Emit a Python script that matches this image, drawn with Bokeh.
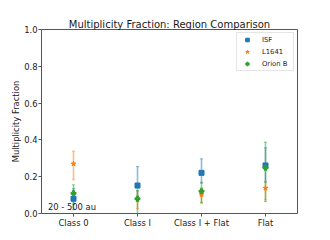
from bokeh.plotting import figure
from bokeh.models import (ColumnDataSource, Whisker, TeeHead, Legend, LegendItem,
                          Label, FixedTicker, Range1d)
from bokeh.embed import file_html
from bokeh.resources import INLINE

categories = ["Class 0", "Class I", "Class I + Flat", "Flat"]
regions = ["ISF", "L1641", "Orion B"]
colors = ["#1f77b4", "#ff7f0e", "#2ca02c"]
markers = ["square", "star", "plus"]

isf_val = [0.080, 0.152, 0.221, 0.261]
isf_lo = [0.020, 0.095, 0.165, 0.170]
isf_hi = [0.135, 0.255, 0.297, 0.357]

l1641_val = [0.270, 0.074, 0.103, 0.138]
l1641_lo = [0.183, 0.025, 0.055, 0.074]
l1641_hi = [0.339, 0.120, 0.140, 0.174]

orionb_val = [0.110, 0.080, 0.121, 0.248]
orionb_lo = [0.050, 0.000, 0.060, 0.065]
orionb_hi = [0.156, 0.125, 0.170, 0.388]

yticks = [0.0, 0.2, 0.4, 0.6, 0.8, 1.0]
annotation = "20 - 500 au"

FONT = "DejaVu Sans"
TXT = "#1a1a1a"

p = figure(width=322, height=236, output_backend="svg", toolbar_location=None,
           x_range=Range1d(-0.5, 3.5), y_range=Range1d(0.0, 1.0),
           title="Multiplicity Fraction: Region Comparison")
p.min_border_left = 41
p.min_border_right = 25
p.min_border_top = 29
p.min_border_bottom = 23
p.background_fill_color = "white"
p.border_fill_color = "white"
p.outline_line_color = "#555555"
p.outline_line_width = 1
p.xgrid.visible = False
p.ygrid.visible = False

p.title.align = "center"
p.title.text_font = FONT
p.title.text_font_size = "10px"
p.title.text_font_style = "normal"
p.title.text_color = TXT
p.title.standoff = 0

xs = list(range(len(categories)))
p.xaxis.ticker = FixedTicker(ticks=xs)
p.xaxis.major_label_overrides = {i: c for i, c in enumerate(categories)}
p.yaxis.ticker = FixedTicker(ticks=yticks)
p.yaxis.major_label_overrides = {t: f"{t:.1f}" for t in yticks}
p.yaxis.axis_label = "Multiplicity Fraction"

for ax in (p.xaxis[0], p.yaxis[0]):
    ax.axis_line_color = None
    ax.major_tick_line_color = "#555555"
    ax.major_tick_out = 3
    ax.major_tick_in = 0
    ax.minor_tick_line_color = None
    ax.major_label_text_font = FONT
    ax.major_label_text_font_size = "8.4px"
    ax.major_label_text_color = TXT
    ax.major_label_standoff = 1
    ax.axis_label_text_font = FONT
    ax.axis_label_text_font_size = "8.4px"
    ax.axis_label_text_font_style = "normal"
    ax.axis_label_text_color = TXT
    ax.axis_label_standoff = 0

series = [(isf_val, isf_lo, isf_hi), (l1641_val, l1641_lo, l1641_hi),
          (orionb_val, orionb_lo, orionb_hi)]

items = []
for name, color, marker, (val, lo, hi) in zip(regions, colors, markers, series):
    src = ColumnDataSource(dict(x=xs, y=val, lo=lo, hi=hi))
    w = Whisker(source=src, base="x", lower="lo", upper="hi", dimension="height",
                line_color=color, line_alpha=0.5, line_width=1.6,
                upper_head=TeeHead(size=3, line_color=color, line_alpha=0.5, line_width=1),
                lower_head=TeeHead(size=3, line_color=color, line_alpha=0.5, line_width=1))
    p.add_layout(w)
    mk = p.scatter("x", "y", source=src, marker=marker, size=5,
                   fill_color=color, line_color=color)
    items.append(LegendItem(label=name, renderers=[mk]))

legend = Legend(items=items, location="top_right")
legend.margin = 3
legend.padding = 2
legend.spacing = 3
legend.glyph_width = 16
legend.glyph_height = 9
legend.label_height = 9
legend.label_width = 29
legend.label_standoff = 7
legend.label_text_font = FONT
legend.label_text_font_size = "6.8px"
legend.label_text_color = TXT
legend.border_line_color = "#cccccc"
legend.border_line_width = 1
legend.background_fill_alpha = 0.8
p.add_layout(legend)

p.add_layout(Label(x=-0.4, y=0.008, text=annotation, text_font=FONT,
                   text_font_size="8.4px", text_color=TXT, text_baseline="bottom"))

open("out.html", "w").write(file_html(p, INLINE))
